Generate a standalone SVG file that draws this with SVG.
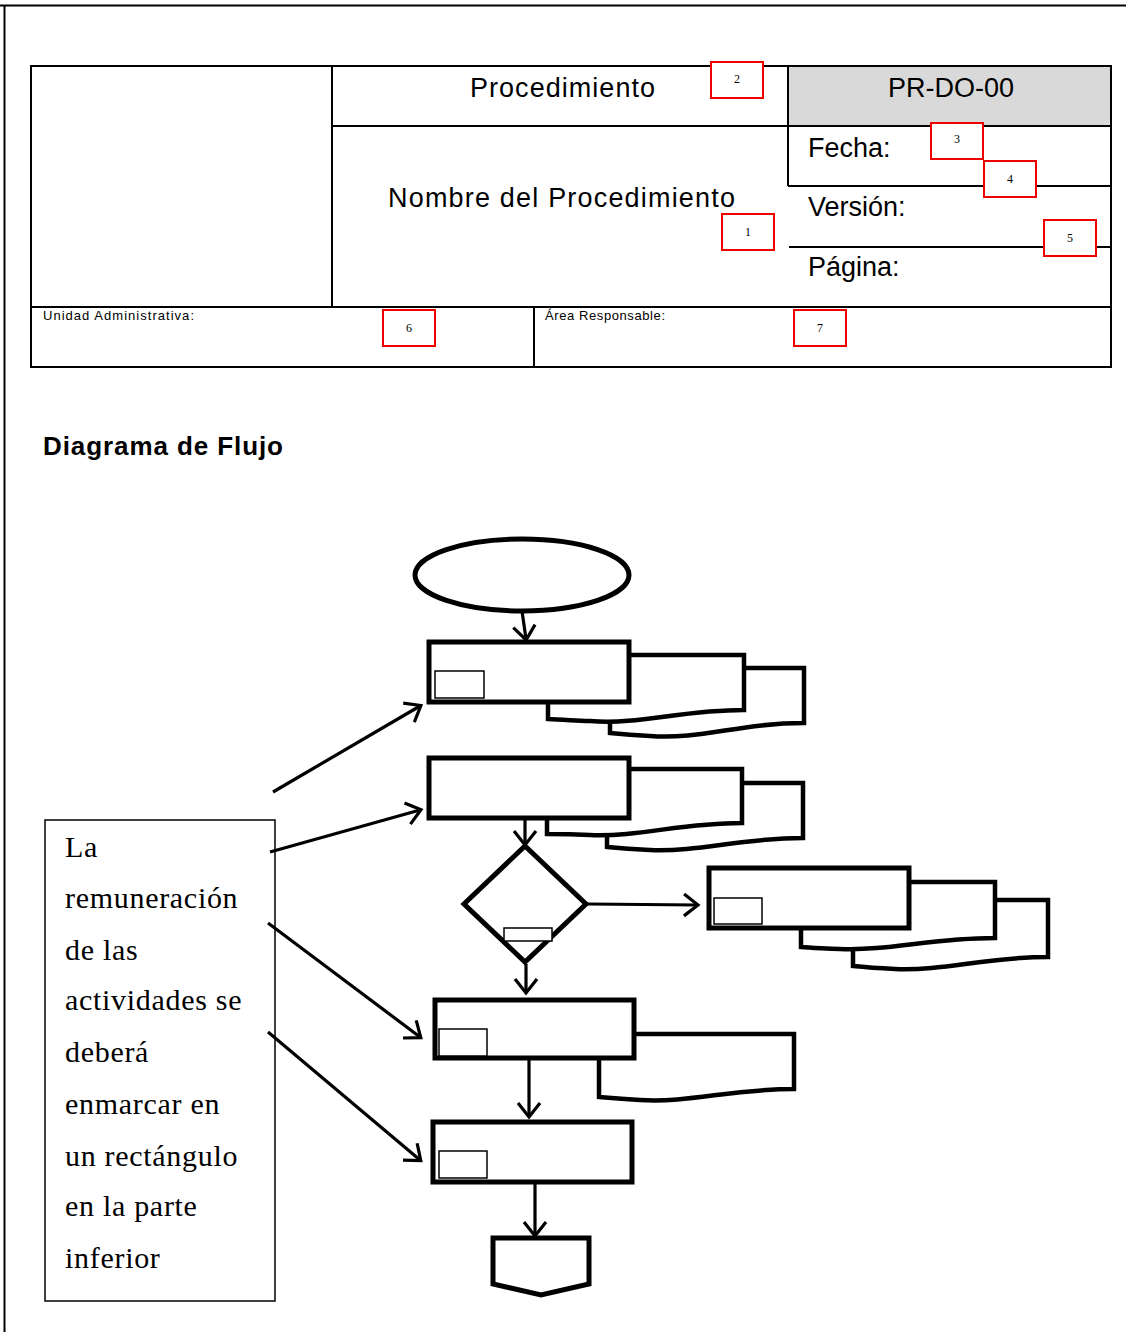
<svg xmlns="http://www.w3.org/2000/svg" width="1126" height="1332" viewBox="0 0 1126 1332">
  <style>
    .hdr { font-family: "Liberation Sans", Arial, sans-serif; fill: #000; }
    .grid { stroke: #000; stroke-width: 2; fill: none; }
    .tag { fill: #fff; stroke: #e00; stroke-width: 2; }
    .tagt { font-family: "Liberation Serif", serif; font-size: 12px; text-anchor: middle; }
    .shape { fill: #fff; stroke: #000; stroke-width: 5; stroke-linejoin: miter; }
    .doc { fill: #fff; stroke: #000; stroke-width: 4.5; }
    .inner { fill: #fff; stroke: #000; stroke-width: 1.5; }
    .conn { stroke: #000; stroke-width: 3.2; fill: none; }
    .note { font-family: "Liberation Serif", serif; font-size: 30px; letter-spacing: 0.7px; fill: #000; }
  </style>
  <defs>
    <marker id="open" viewBox="0 0 14 22" refX="13" refY="11" markerWidth="14" markerHeight="22" markerUnits="userSpaceOnUse" orient="auto" overflow="visible">
      <path d="M0,0 L14,11 L0,22" fill="none" stroke="#000" stroke-width="3.2"/>
    </marker>
  </defs>
  <rect width="1126" height="1332" fill="#fff"/>

  <!-- page frame -->
  <g id="page-frame">
    <line x1="0" y1="5.5" x2="1126" y2="5.5" stroke="#000" stroke-width="2"/>
    <line x1="4.5" y1="5" x2="4.5" y2="1332" stroke="#000" stroke-width="2"/>
  </g>

  <!-- header table -->
  <g id="header">
    <rect x="788" y="66" width="323" height="60" fill="#d9d9d9"/>
    <rect x="31" y="66" width="1080" height="301" class="grid"/>
    <line x1="332" y1="66" x2="332" y2="307" class="grid"/>
    <line x1="788" y1="66" x2="788" y2="186" class="grid"/>
    <line x1="332" y1="126" x2="1111" y2="126" class="grid"/>
    <line x1="788" y1="186" x2="1111" y2="186" class="grid" stroke-width="3"/>
    <line x1="789" y1="247" x2="1111" y2="247" class="grid"/>
    <line x1="31" y1="307" x2="1111" y2="307" class="grid"/>
    <line x1="534" y1="307" x2="534" y2="367" class="grid"/>

    <text class="hdr" x="470" y="97" font-size="27" textLength="185">Procedimiento</text>
    <text class="hdr" x="951" y="97" font-size="27" text-anchor="middle">PR-DO-00</text>
    <text class="hdr" x="388" y="207" font-size="27" textLength="347">Nombre  del Procedimiento</text>
    <text class="hdr" x="808" y="157" font-size="27">Fecha:</text>
    <text class="hdr" x="808" y="216" font-size="27">Versión:</text>
    <text class="hdr" x="808" y="276" font-size="27">Página:</text>
    <text class="hdr" x="43" y="320" font-size="13" textLength="151">Unidad Administrativa:</text>
    <text class="hdr" x="545" y="320" font-size="13" textLength="120">Área Responsable:</text>
  </g>

  <!-- numbered field tags -->
  <g id="tags">
    <g id="tag-1"><rect x="722" y="214" width="52" height="36" class="tag"/><text x="748" y="236" class="tagt">1</text></g>
    <g id="tag-2"><rect x="711" y="62" width="52" height="36" class="tag"/><text x="737" y="83" class="tagt">2</text></g>
    <g id="tag-3"><rect x="931" y="123" width="52" height="36" class="tag"/><text x="957" y="143" class="tagt">3</text></g>
    <g id="tag-4"><rect x="984" y="161" width="52" height="36" class="tag"/><text x="1010" y="183" class="tagt">4</text></g>
    <g id="tag-5"><rect x="1044" y="220" width="52" height="36" class="tag"/><text x="1070" y="242" class="tagt">5</text></g>
    <g id="tag-6"><rect x="383" y="310" width="52" height="36" class="tag"/><text x="409" y="332" class="tagt">6</text></g>
    <g id="tag-7"><rect x="794" y="310" width="52" height="36" class="tag"/><text x="820" y="332" class="tagt">7</text></g>
  </g>

  <text id="section-title" x="43" y="455" font-family="Liberation Sans, Arial, sans-serif" font-size="26" font-weight="bold" textLength="240">Diagrama de Flujo</text>

  <!-- flowchart nodes -->
  <g id="start">
    <ellipse cx="522" cy="575" rx="107" ry="36" class="shape"/>
  </g>

  <g id="activity-1">
    <path class="doc" d="M744,668 H804 V723 C740,723 700,740 650,736 C630,735 620,734 610,733 V718"/>
    <path class="doc" d="M629,655 H744 V710 C680,710 640,725 590,721 C570,720 560,720 548,719 V702"/>
    <rect x="429" y="642" width="200" height="60" class="shape"/>
    <rect x="435" y="671" width="49" height="27" class="inner"/>
  </g>

  <g id="activity-2">
    <path class="doc" d="M742,783 H803 V838 C740,838 700,852 650,850 C630,849 618,848 607,847 V833"/>
    <path class="doc" d="M629,769 H742 V823 C680,823 640,837 590,835 C570,834 558,834 547,834 V818"/>
    <rect x="429" y="758" width="200" height="60" class="shape"/>
  </g>

  <g id="decision">
    <polygon points="525,846 586,904 525,962 464,904" class="shape"/>
    <rect x="504" y="928" width="48" height="13" class="inner"/>
  </g>

  <g id="activity-3">
    <path class="doc" d="M995,900 H1048 V957 C985,957 945,971 895,969 C875,968 863,967 853,966 V946"/>
    <path class="doc" d="M909,882 H995 V938 C930,938 890,951 840,949 C820,948 810,948 801,947 V928"/>
    <rect x="709" y="868" width="200" height="60" class="shape"/>
    <rect x="714" y="898" width="48" height="26" class="inner"/>
  </g>

  <g id="activity-4">
    <path class="doc" d="M634,1034 H794 V1089 C730,1089 690,1103 640,1100 C620,1099 610,1098 599,1097 V1058"/>
    <rect x="435" y="1000" width="199" height="58" class="shape"/>
    <rect x="439" y="1029" width="48" height="27" class="inner"/>
  </g>

  <g id="activity-5">
    <rect x="433" y="1122" width="199" height="60" class="shape"/>
    <rect x="439" y="1151" width="48" height="27" class="inner"/>
  </g>

  <g id="off-page">
    <polygon points="493,1238 589,1238 589,1284 541,1295 493,1284" class="shape"/>
  </g>

  <g id="note">
    <rect x="45" y="820" width="230" height="481" fill="#fff" stroke="#000" stroke-width="1.5"/>
    <text class="note" x="65" y="857">La</text>
    <text class="note" x="65" y="908">remuneración</text>
    <text class="note" x="65" y="960">de las</text>
    <text class="note" x="65" y="1010">actividades se</text>
    <text class="note" x="65" y="1062">deberá</text>
    <text class="note" x="65" y="1114">enmarcar en</text>
    <text class="note" x="65" y="1166">un rectángulo</text>
    <text class="note" x="65" y="1216">en la parte</text>
    <text class="note" x="65" y="1268">inferior</text>
  </g>

  <!-- connectors -->
  <g id="connectors">
    <line x1="522" y1="611" x2="526" y2="639" class="conn" marker-end="url(#open)"/>
    <line x1="525" y1="820" x2="525" y2="844" class="conn" marker-end="url(#open)"/>
    <line x1="588" y1="904" x2="697" y2="905" class="conn" marker-end="url(#open)"/>
    <line x1="526" y1="964" x2="526" y2="992" class="conn" marker-end="url(#open)"/>
    <line x1="529" y1="1060" x2="529" y2="1116" class="conn" marker-end="url(#open)"/>
    <line x1="535" y1="1184" x2="535" y2="1235" class="conn" marker-end="url(#open)"/>
    <line x1="273" y1="792" x2="420" y2="706" class="conn" marker-end="url(#open)"/>
    <line x1="270" y1="852" x2="420" y2="810" class="conn" marker-end="url(#open)"/>
    <line x1="268" y1="923" x2="420" y2="1037" class="conn" marker-end="url(#open)"/>
    <line x1="268" y1="1032" x2="420" y2="1160" class="conn" marker-end="url(#open)"/>
  </g>
</svg>
